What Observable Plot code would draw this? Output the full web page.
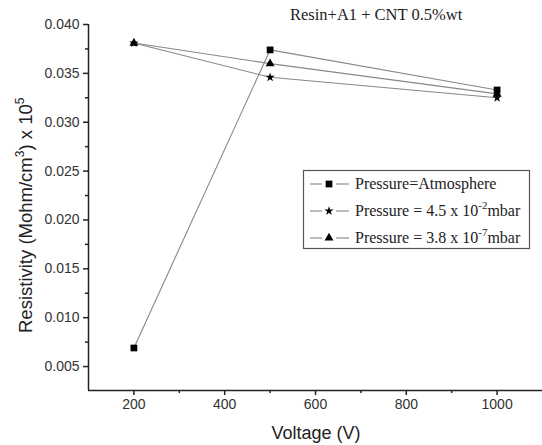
<!DOCTYPE html>
<html>
<head>
<meta charset="utf-8">
<script src="https://cdn.jsdelivr.net/npm/d3@7"></script>
<script src="https://cdn.jsdelivr.net/npm/@observablehq/plot@0.6"></script>
<style>
  html, body { margin: 0; padding: 0; background: #fff; }
  svg { display: block; }
</style>
</head>
<body>
<div id="chart"></div>
<script>
const voltages = [200, 500, 1000];
const seriesNames = ["Pressure=Atmosphere", "Pressure = 4.5 x 10-2mbar", "Pressure = 3.8 x 10-7mbar"];
const seriesSymbols = ["square", "star", "triangle"];
const atmosphere = [0.0069, 0.0374, 0.0333];
const p45e2 = [0.0381, 0.0346, 0.0325];
const p38e7 = [0.0381, 0.0360, 0.0329];
const xMajorTicks = [200, 400, 600, 800, 1000];
const xMinorTicks = [300, 500, 700, 900];
const yMajorTicks = [0.005, 0.010, 0.015, 0.020, 0.025, 0.030, 0.035, 0.040];
const yMinorTicks = [0.0075, 0.0125, 0.0175, 0.0225, 0.0275, 0.0325, 0.0375];
const annotation = "Resin+A1 + CNT 0.5%wt";

const seriesValues = [atmosphere, p45e2, p38e7];
const rows = seriesValues.map((vals, s) => vals.map((v, i) => ({series: seriesNames[s], s, x: voltages[i], y: v}))).flat();
const radii = [3.8, 2.9, 3.3];

const xDomain = [100, 1100];
const yDomain = [0.00255, 0.040];

const chart = Plot.plot({
  width: 542,
  height: 445,
  marginLeft: 88,
  marginRight: 0,
  marginTop: 24,
  marginBottom: 55,
  style: {fontFamily: "'Liberation Sans', Arial, sans-serif", fontSize: "14px", color: "#222", background: "#fff"},
  x: {domain: xDomain},
  y: {domain: yDomain},
  marks: [
    Plot.axisX({ticks: xMajorTicks, tickSize: 5, tickFormat: d => String(d), fontSize: 14, tickPadding: 4, stroke: "#222", fill: "#333", strokeWidth: 1.5, label: null}),
    Plot.axisX({ticks: xMinorTicks, tickSize: 3, text: null, stroke: "#222", strokeWidth: 1.5, label: null}),
    Plot.axisY({ticks: yMajorTicks, tickSize: 5, tickFormat: d3.format(".3f"), fontSize: 14, tickPadding: 4, stroke: "#222", fill: "#333", strokeWidth: 1.5, label: null}),
    Plot.axisY({ticks: yMinorTicks, tickSize: 3, text: null, stroke: "#222", strokeWidth: 1.5, label: null}),
    Plot.ruleX([xDomain[0]], {stroke: "#222", strokeWidth: 1.5}),
    Plot.ruleY([yDomain[0]], {stroke: "#222", strokeWidth: 1.5}),
    Plot.line(rows, {x: "x", y: "y", z: "series", stroke: "#888", strokeWidth: 1.1}),
    ...seriesSymbols.map((sym, s) =>
      Plot.dot(rows.filter(d => d.s === s), {x: "x", y: "y", symbol: () => sym, r: radii[s], fill: "#000", stroke: "none"})
    )
  ]
});

document.getElementById("chart").appendChild(chart);

// Annotation, axis titles and legend drawn into the same SVG
const svg = d3.select(chart);
const serif = "'Liberation Serif', 'Times New Roman', serif";
const sans = "'Liberation Sans', Arial, sans-serif";

svg.append("text")
  .attr("x", 290).attr("y", 20)
  .attr("text-anchor", "start")
  .attr("font-family", serif).attr("font-size", 16.5).attr("fill", "#222")
  .text(annotation);

svg.append("text")
  .attr("x", 316).attr("y", 439)
  .attr("text-anchor", "middle")
  .attr("font-family", sans).attr("font-size", 18).attr("fill", "#222")
  .text("Voltage (V)");

const yl = svg.append("text")
  .attr("transform", "translate(32,333) rotate(-90)")
  .attr("text-anchor", "start")
  .attr("font-family", sans).attr("font-size", 18.5).attr("fill", "#222");
yl.append("tspan").text("Resistivity (Mohm/cm");
yl.append("tspan").attr("font-size", 12).attr("dy", -8).text("3");
yl.append("tspan").attr("dy", 8).text(") x 10");
yl.append("tspan").attr("font-size", 12).attr("dy", -8).text("5");

// Legend
const lg = svg.append("g").attr("text-anchor", "start");
lg.append("rect")
  .attr("x", 303.5).attr("y", 170.5).attr("width", 226).attr("height", 78)
  .attr("fill", "#fff").attr("stroke", "#555").attr("stroke-width", 1.2);
const legendRows = [184, 211, 238];
const d3sym = {square: d3.symbolSquare, star: d3.symbolStar, triangle: d3.symbolTriangle};
seriesNames.forEach((name, s) => {
  const cy = legendRows[s];
  lg.append("line").attr("x1", 310).attr("x2", 322).attr("y1", cy).attr("y2", cy)
    .attr("stroke", "#888").attr("stroke-width", 1.1);
  lg.append("line").attr("x1", 336).attr("x2", 349).attr("y1", cy).attr("y2", cy)
    .attr("stroke", "#888").attr("stroke-width", 1.1);
  lg.append("path")
    .attr("transform", `translate(329,${cy})`)
    .attr("d", d3.symbol(d3sym[seriesSymbols[s]], radii[s] * radii[s] * Math.PI)())
    .attr("fill", "#000");
  const t = lg.append("text")
    .attr("x", 355).attr("y", cy + 5)
    .attr("text-anchor", "start")
    .attr("font-family", serif).attr("font-size", 16).attr("fill", "#222");
  const m = name.match(/^(.*10)(-\d)(mbar)$/);
  if (m) {
    t.append("tspan").text(m[1]);
    t.append("tspan").attr("font-size", 11).attr("dy", -7).text(m[2]);
    t.append("tspan").attr("dy", 7).text(m[3]);
  } else {
    t.text(name);
  }
});
</script>
</body>
</html>
